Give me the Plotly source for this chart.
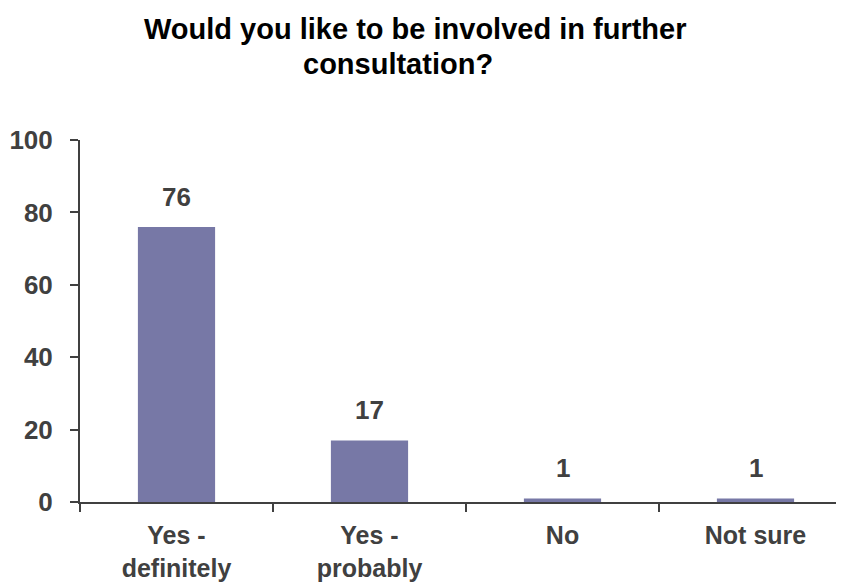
import plotly.graph_objects as go

categories = ["Yes -<br>definitely", "Yes -<br>probably", "No", "Not sure"]
values = [76, 17, 1, 1]
y_ticks = [0, 20, 40, 60, 80, 100]
title_lines = ["Would you like to be involved in further", "consultation?"]

TEXT = "#404040"
BAR = "#7778A6"
FONT = "Liberation Sans, Arial, sans-serif"

fig = go.Figure()
fig.add_trace(go.Bar(x=categories, y=values, marker=dict(color=BAR, line=dict(width=0)),
                     width=0.4, hoverinfo="skip"))

for c, v in zip(categories, values):
    fig.add_annotation(x=c, y=v, text=str(v), showarrow=False, yanchor="bottom",
                       yshift=13, font=dict(family=FONT, size=26, color=TEXT, weight="bold"))

for txt, xp, yp in zip(title_lines, [0.4333, 0.4113], [1.3066, 1.21]):
    fig.add_annotation(xref="paper", yref="paper", x=xp, y=yp, text=txt, showarrow=False,
                       xanchor="center", yanchor="middle",
                       font=dict(family=FONT, size=29, color="black", weight="bold"))

fig.update_layout(
    width=844, height=584,
    margin=dict(l=72, r=0, t=132, b=90),
    paper_bgcolor="white", plot_bgcolor="white",
    showlegend=False,
    font=dict(family=FONT, size=26, color=TEXT),
)
fig.update_xaxes(range=[-0.5, 3.5], showline=True, linecolor=TEXT, linewidth=2,
                 ticks="outside", tickson="boundaries", ticklen=8, tickwidth=2, tickcolor=TEXT,
                 showgrid=False, zeroline=False, automargin=False, ticklabelstandoff=10,
                 tickfont=dict(family=FONT, size=25, color=TEXT, weight="bold"))
fig.update_yaxes(range=[0, 100], tickvals=y_ticks, showline=True, linecolor=TEXT, linewidth=2,
                 ticks="outside", ticklen=8, tickwidth=2, tickcolor=TEXT,
                 showgrid=False, zeroline=False, ticklabelstandoff=12, automargin=False,
                 tickfont=dict(family=FONT, size=26, color=TEXT, weight="bold"))

fig.write_html("out.html")
